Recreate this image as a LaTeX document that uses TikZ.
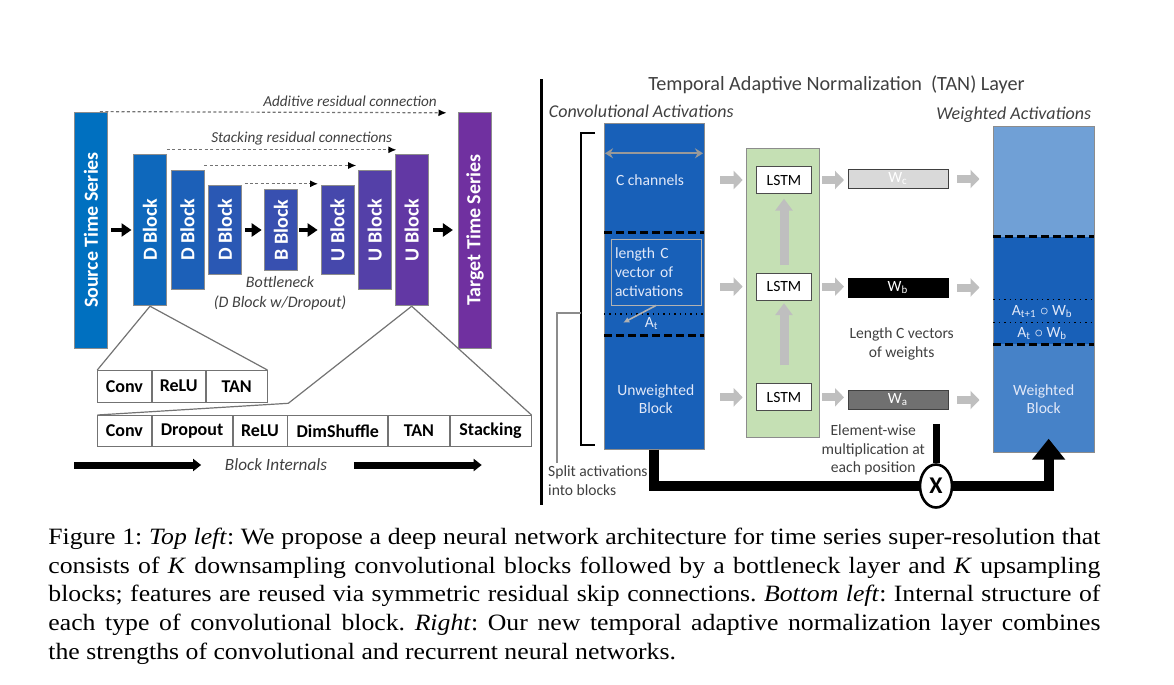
\documentclass[tikz,border=0pt]{standalone}
\usepackage{graphicx}
\usepackage{fontspec}
\setmainfont{Carlito}
\newfontfamily\capfont{Liberation Serif}
\usetikzlibrary{positioning,calc,arrows.meta,shapes.geometric}
\definecolor{srcblue}{RGB}{0,112,192}
\definecolor{tgtpurple}{RGB}{112,48,160}
\definecolor{actblue}{RGB}{24,96,184}
\definecolor{wtlight}{RGB}{112,160,214}
\definecolor{wtmid}{RGB}{70,130,200}
\definecolor{lstmgreen}{RGB}{197,224,180}
\definecolor{labgray}{RGB}{64,64,64}
\definecolor{paletext}{RGB}{225,232,248}

\begin{document}
\begin{tikzpicture}[x=0.5pt, y=-0.5pt,
	blk/.style={draw=black!45, inner sep=0pt, minimum width=16.5pt, text=white, font=\fontsize{10}{12}\selectfont\bfseries},
	fwd/.style={line width=2.3pt, -{Triangle[length=5pt,width=6.5pt]}},
	resid/.style={draw=black!55, line width=0.6pt, dash pattern=on 1.5pt off 1.2pt, -{Latex[length=4pt,width=3.5pt,color=black]}},
	reslab/.style={font=\fontsize{7.6}{10}\selectfont\itshape, text=labgray},
	cell/.style={draw=black!55, inner sep=0pt, minimum height=15.8pt, font=\fontsize{9}{11}\selectfont\bfseries},
	zoomline/.style={draw=black!55, line width=0.6pt},
	intarrow/.style={line width=3.5pt, -{Triangle[length=4pt,width=6pt]}},
	txt/.style={font=\fontsize{7.8}{9.3}\selectfont},
	lstm/.style={txt, draw=black!70, fill=white, inner sep=0pt, minimum width=27.5pt, minimum height=13.5pt},
	wbox/.style={txt, text=white, inner sep=0pt, minimum width=50pt, minimum height=9.5pt},
	grayarr/.style={draw=black!25, line width=4pt, -{Triangle[length=4.5pt,width=9pt]}},
	uparr/.style={draw=black!25, line width=4.5pt, -{Triangle[length=6pt,width=8.5pt]}},
	blkdash/.style={line width=1.3pt, dash pattern=on 4pt off 2pt},
	mainflow/.style={line width=5pt}]
	\useasboundingbox (0,0) rectangle (1174,685);

	% encoder / decoder blocks
	\node [blk, fill=srcblue, minimum height=118pt] (src) at (91,230) {\rotatebox{90}{Source Time Series}};
	\node [blk, fill=tgtpurple!12.5!srcblue, minimum height=75.8pt] (d1) at (150,230) {\rotatebox{90}{D Block}};
	\node [blk, fill=tgtpurple!25!srcblue, minimum height=59.7pt] (d2) at (187.5,230) {\rotatebox{90}{D Block}};
	\node [blk, fill=tgtpurple!37.5!srcblue, minimum height=44.8pt] (d3) at (225,230) {\rotatebox{90}{D Block}};
	\node [blk, fill=tgtpurple!50!srcblue, minimum height=40.5pt] (bb) at (281,230) {\rotatebox{90}{B Block}};
	\node [blk, fill=tgtpurple!62.5!srcblue, minimum height=44.8pt] (u1) at (337.5,230) {\rotatebox{90}{U Block}};
	\node [blk, fill=tgtpurple!75!srcblue, minimum height=59.7pt] (u2) at (374.7,230) {\rotatebox{90}{U Block}};
	\node [blk, fill=tgtpurple!87.5!srcblue, minimum height=75.8pt] (u3) at (411.7,230) {\rotatebox{90}{U Block}};
	\node [blk, fill=tgtpurple, minimum height=118pt] (tgt) at (475,230) {\rotatebox{90}{Target Time Series}};

	\draw [fwd] ([xshift=1.6pt]src.east) -- ([xshift=-0.8pt]d1.west);
	\draw [fwd] ([xshift=1.6pt]d3.east) -- ([xshift=-1.2pt]bb.west);
	\draw [fwd] ([xshift=0.7pt]bb.east) -- ([xshift=-1.5pt]u1.west);
	\draw [fwd] ([xshift=2.3pt]u3.east) -- ([xshift=-2.6pt]tgt.west);

	\draw [resid] ([xshift=-4pt]src.north east) -- ([xshift=-5.8pt,yshift=-0.6pt]tgt.north west);
	\draw [resid] ([yshift=2pt]d1.north east) -- ([xshift=0.8pt,yshift=2pt]u3.north west);
	\draw [resid] ([yshift=2.2pt]d2.north east) -- ([xshift=-0.8pt,yshift=2.2pt]u2.north west);
	\draw [resid] ([xshift=1.3pt,yshift=0.5pt]d3.north east) -- ([xshift=-1.3pt,yshift=0.5pt]u1.north west);
	\node [reslab] (addlab) at (350,101.7) {Additive residual connection};
	\node [reslab] (stacklab) at (301.7,138.3) {Stacking residual connections};
	\node [reslab, align=center, font=\fontsize{8}{10}\selectfont\itshape] (bneck) at (280,293.3) {Bottleneck\\(D Block w/Dropout)};

	% block internals
	\node [cell, minimum width=26.7pt, anchor=north west] (sc1) at (97.3,370) {Conv};
	\node [cell, minimum width=26.8pt, right=0pt of sc1] (sc2) {ReLU};
	\node [cell, minimum width=30.35pt, right=0pt of sc2] (sc3) {TAN};
	\node [cell, minimum width=26.7pt, minimum height=15.35pt, anchor=north west] (bc1) at (97.3,415) {Conv};
	\node [cell, minimum width=40.15pt, minimum height=15.35pt, right=0pt of bc1] (bc2) {Dropout};
	\node [cell, minimum width=27pt, minimum height=15.35pt, right=0pt of bc2] (bc3) {ReLU};
	\node [cell, minimum width=50pt, minimum height=15.35pt, right=0pt of bc3] (bc4) {DimShuffle};
	\node [cell, minimum width=30.35pt, minimum height=15.35pt, right=0pt of bc4] (bc5) {TAN};
	\node [cell, minimum width=40.5pt, minimum height=15.35pt, right=0pt of bc5] (bc6) {Stacking};

	\coordinate (ubend) at (288.3,403.3);
	\draw [zoomline] (d1.south) -- (sc1.north west);
	\draw [zoomline] (d1.south) -- (sc3.north east);
	\draw [zoomline] (u3.south) -- (ubend) -- (bc1.north west);
	\draw [zoomline] (u3.south) -- (bc6.north east);

	\node [reslab, font=\fontsize{8.6}{10}\selectfont\itshape] (intlab) at (276,465) {Block Internals};
	\coordinate (int0) at (74,465);
	\coordinate (int1) at (481.7,465);
	\draw [intarrow] (int0) -- ([xshift=-8.4pt]intlab.west);
	\draw [intarrow] ([xshift=9.9pt]intlab.east) -- (int1);

	\draw [line width=1.5pt] (541,79) -- (541,505);

	% TAN layer
	\node [font=\fontsize{10.1}{12}\selectfont, text=labgray] (title) at (836.5,85) {Temporal Adaptive Normalization\ \ (TAN) Layer};
	\node [reslab, font=\fontsize{9}{11}\selectfont\itshape, anchor=west, inner sep=0pt] (convlab) at (548.5,111.7) {Convolutional Activations};
	\node [reslab, font=\fontsize{9}{11}\selectfont\itshape, anchor=east, inner sep=0pt] (wtlab) at (1091.6,114.3) {Weighted Activations};

	\node [draw=black!45, fill=actblue, inner sep=0pt, minimum width=50pt, minimum height=163pt] (colL) at (654,286.3) {};
	\draw [black!40, line width=1pt, {Stealth[length=4pt,width=5pt]}-{Stealth[length=4pt,width=5pt]}] (605,153.3) -- (703,153.3);
	\node [txt, text=paletext] (chan) at (650,180) {C channels};
	\draw [blkdash] (604,232.7) -- (704,232.7);
	\node [txt, text=paletext, draw=black!30, text width=41pt, minimum height=32.85pt, inner xsep=2pt, align=left] (veclab) at (656,272.2) {length C\\vector of\\activations};
	\draw [dotted, line width=0.7pt] (604,314) -- (704,314);
	\node [txt, text=paletext] (at) at (651.7,324) {A\textsubscript{t}};
	\coordinate (atptr) at (623.3,322.7);
	\draw [black!30, line width=0.8pt, -{Latex[length=3pt,width=3pt]}] (veclab.south) -- (atptr);
	\draw [blkdash] (604,335.7) -- (704,335.7);
	\node [txt, text=paletext, align=center] (unw) at (655.8,399) {Unweighted\\Block};

	\draw [line width=1pt] (595,133.3) -- (581,133.3) -- (581,445) -- (595,445);
	\coordinate (brk) at (581,313);
	\node [txt, text=labgray, anchor=west, align=left, inner sep=0pt] (splitlab) at (547.8,480.4) {Split activations\\into blocks};
	\draw [black!45, line width=0.8pt] ([xshift=4.6pt,yshift=1pt]splitlab.north west) |- (brk);

	\node [draw=black!45, fill=lstmgreen, inner sep=0pt, minimum width=36.5pt, minimum height=144.7pt] (lstmbox) at (783,293) {};
	\node [lstm] (lstm1) at (784,180) {LSTM};
	\node [lstm] (lstm2) at (784,286.7) {LSTM};
	\node [lstm] (lstm3) at (784,397.3) {LSTM};
	\draw [uparr] ([yshift=3.8pt]lstm2.north) -- ([yshift=-2.4pt]lstm1.south);
	\draw [uparr] ([yshift=9pt]lstm3.north) -- ([yshift=-1.3pt]lstm2.south);

	\node [wbox, fill=black!15, draw=black!75] (wc) at (898,179) {W\textsubscript{c}};
	\node [wbox, fill=black, draw=black] (wb) at (898,287.5) {W\textsubscript{b}};
	\node [wbox, fill=black!56, draw=black!75] (wa) at (898,400) {W\textsubscript{a}};

	\draw [grayarr, shorten <=8pt, shorten >=6.7pt] (lstm1 -| colL.east) -- (lstm1.west);
	\draw [grayarr, shorten <=8pt, shorten >=6.7pt] (lstm2 -| colL.east) -- (lstm2.west);
	\draw [grayarr, shorten <=8pt, shorten >=6.7pt] (lstm3 -| colL.east) -- (lstm3.west);
	\draw [grayarr, shorten <=5.2pt, shorten >=1.8pt] (lstm1.east) -- (lstm1.east -| wc.west);
	\draw [grayarr, shorten <=5.2pt, shorten >=1.8pt] (lstm2.east) -- (lstm2.east -| wb.west);
	\draw [grayarr, shorten <=5.2pt, shorten >=1.8pt] (lstm3.east) -- (lstm3.east -| wa.west);

	\node [txt, text=labgray, align=center] (veclen) at (901.7,344) {Length C vectors\\of weights};

	\fill [wtlight] (993.3,126.7) rectangle (1094,236.7);
	\fill [actblue] (993.3,236.7) rectangle (1094,344.3);
	\fill [wtmid] (993.3,344.3) rectangle (1094,452.7);
	\node [draw=black!45, inner sep=0pt, minimum width=50.35pt, minimum height=163pt] (colR) at (1043.65,289.7) {};
	\draw [blkdash] (993.3,236.7) -- (1094,236.7);
	\draw [dotted, line width=0.7pt] (993.3,299.3) -- (1094,299.3);
	\draw [dotted, line width=0.7pt] (993.3,322.7) -- (1094,322.7);
	\draw [blkdash] (993.3,344.3) -- (1094,344.3);
	\node [txt, text=paletext] (atb1) at (1042.3,311.5) {A\textsubscript{t+1} $\circ$ W\textsubscript{b}};
	\node [txt, text=paletext] (atb0) at (1042.3,333.5) {A\textsubscript{t} $\circ$ W\textsubscript{b}};
	\node [txt, text=paletext, align=center] (wblk) at (1043.7,399) {Weighted\\Block};

	\draw [grayarr, shorten <=4.5pt, shorten >=6.7pt] (wc.east) -- (wc.east -| colR.west);
	\draw [grayarr, shorten <=4.5pt, shorten >=6.7pt] (wb.east) -- (wb.east -| colR.west);
	\draw [grayarr, shorten <=4.5pt, shorten >=6.7pt] (wa.east) -- (wa.east -| colR.west);

	\node [txt, text=labgray, align=center, font=\fontsize{7.8}{9.2}\selectfont] (ewlab) at (873.3,450) {Element-wise\\multiplication at\\each position};

	\node [ellipse, draw, line width=1.3pt, fill=white, inner sep=0pt, minimum width=16pt, minimum height=21.5pt, font=\fontsize{12}{14}\selectfont\bfseries] (mult) at (936,486) {X};
	\draw [line width=3.5pt] ($(wa.south -| mult)+(0,14)$) -- (mult.north);
	\draw [mainflow] (colL.south) |- (mult.west);
	\draw [mainflow, -{Triangle[length=10.5pt,width=16pt]}] (mult.east) -| ([xshift=2.5pt,yshift=7.2pt]colR.south);

	% caption
	\node [anchor=north west, inner sep=0pt, font=\capfont\fontsize{11.7}{14.35}\selectfont] (caption) at (48,527.5) {\scalebox{1.1}[1]{\begin{minipage}{478.2pt}\frenchspacing\hyphenpenalty=10000
	Figure 1: \textit{Top left}: We propose a deep neural network architecture for time series super-resolution that\linebreak consists of \textit{K} downsampling convolutional blocks followed by a bottleneck layer and \textit{K} upsampling\linebreak blocks; features are reused via symmetric residual skip connections. \textit{Bottom left}: Internal structure of\linebreak each type of convolutional block. \textit{Right}: Our new temporal adaptive normalization layer combines\linebreak the strengths of convolutional and recurrent neural networks.\end{minipage}}};
\end{tikzpicture}
\end{document}
